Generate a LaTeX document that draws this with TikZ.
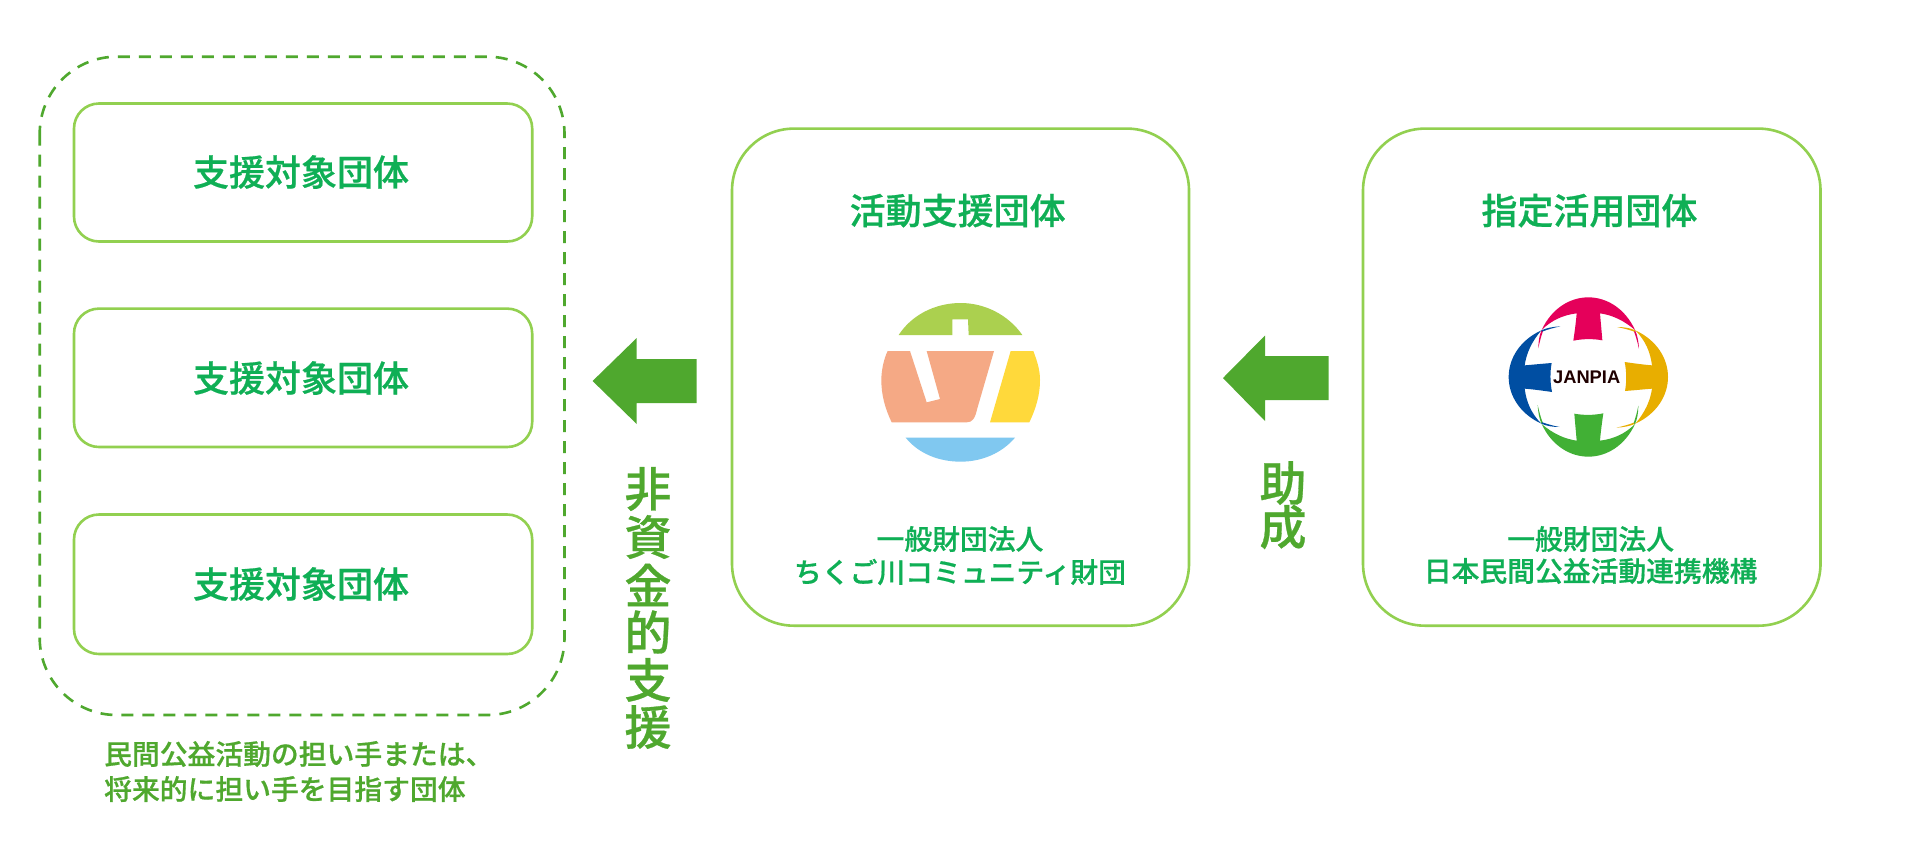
\documentclass[tikz,border=0pt]{standalone}
\usepackage{fontspec}
\newfontfamily\cjk[FakeBold=0.6]{Noto Sans CJK JP Medium}
\newfontfamily\lat{Liberation Sans}
\definecolor{bordergreen}{HTML}{92D050}
\definecolor{textgreen}{HTML}{0FAF55}
\definecolor{olivegreen}{HTML}{4FA82E}
\definecolor{lgreen}{HTML}{ABD04F}
\definecolor{lpeach}{HTML}{F5A985}
\definecolor{lyellow}{HTML}{FFD93B}
\definecolor{lblue}{HTML}{80C8F0}
\definecolor{jpink}{HTML}{E5005A}
\definecolor{jblue}{HTML}{004EA2}
\definecolor{jyellow}{HTML}{E8AE00}
\definecolor{jgreen}{HTML}{41B035}
\newcommand{\petal}[2]{%
  \begin{scope}[rotate around={#2:(325,291)}]
    \fill[#1] (185,150) .. controls (215,85) and (270,52) .. (325,52)
      .. controls (380,52) and (435,85) .. (465,150)
      .. controls (430,120) and (395,105) .. (360,100)
      .. controls (362,125) and (365,155) .. (367,181)
      .. controls (340,176) and (310,176) .. (280,182)
      .. controls (284,155) and (288,125) .. (290,100)
      .. controls (250,105) and (215,120) .. (185,150) -- cycle;
    \fill[#1] (465,150) .. controls (472,165) and (476,185) .. (477,207)
      .. controls (472,185) and (468,170) .. (461,152) -- cycle;
    \fill[#1] (185,150) .. controls (178,165) and (175,185) .. (175,205)
      .. controls (179,185) and (183,170) .. (189,153) -- cycle;
  \end{scope}}
\tikzset{
  box/.style={draw=bordergreen,line width=2.6pt,fill=white},
  arrowshape/.style={fill=olivegreen,draw=none},
  title/.style={font=\cjk\fontsize{36}{36}\selectfont,text=textgreen,inner sep=0pt,anchor=center},
  small/.style={font=\cjk\fontsize{27.8}{27.8}\selectfont,text=textgreen,inner sep=0pt,anchor=center},
  note/.style={font=\cjk\fontsize{27.8}{27.8}\selectfont,text=olivegreen,inner sep=0pt,anchor=west},
  vert/.style={font=\cjk\fontsize{47}{47}\selectfont,text=olivegreen,inner sep=0pt,anchor=center},
}
\begin{document}
\begin{tikzpicture}[x=1pt,y=-1pt]
\useasboundingbox (0,0) rectangle (1920,847);
\fill[white] (0,0) rectangle (1920,847);
% outer dashed
\draw[olivegreen,line width=2.6pt,dash pattern=on 12pt off 9pt,rounded corners=77pt] (39.7,56.7) rectangle (564.5,715);
% target boxes
\draw[box,rounded corners=25pt] (74,103.5) rectangle (532.2,241.5);
\draw[box,rounded corners=25pt] (74,308.6) rectangle (532.2,447);
\draw[box,rounded corners=25pt] (74,514.5) rectangle (532.2,654);
\node[title] (t1) at (301,172) {支援対象団体};
\node[title] (t2) at (301,378) {支援対象団体};
\node[title] (t3) at (301,584) {支援対象団体};
% middle and right boxes
\draw[box,rounded corners=62pt] (732,128.6) rectangle (1189,625.7);
\draw[box,rounded corners=62pt] (1363,128.6) rectangle (1820.5,625.7);
\node[title] (m1) at (957.6,210.6) {活動支援団体};
\node[small] (m2) at (960,539) {一般財団法人};
\node[small] (m3) at (960,572) {ちくご川コミュニティ財団};
\node[title] (r1) at (1589.4,210.6) {指定活用団体};
\node[small] (r2) at (1590.6,539) {一般財団法人};
\node[small] (r3) at (1590.6,571) {日本民間公益活動連携機構};
% arrows
\fill[arrowshape] (592.6,381) -- (636.7,338) -- (636.7,359) -- (696.5,359) -- (696.5,403) -- (636.7,403) -- (636.7,424) -- cycle;
\fill[arrowshape] (1223,378) -- (1265,335.5) -- (1265,356) -- (1328.5,356) -- (1328.5,400) -- (1265,400) -- (1265,421) -- cycle;
% vertical labels
\node[vert] (v1) at (648,489) {非};
\node[vert] (v2) at (648,537) {資};
\node[vert] (v3) at (648,585) {金};
\node[vert] (v4) at (648,632) {的};
\node[vert] (v5) at (648,680) {支};
\node[vert] (v6) at (648,727) {援};
\node[vert] (w1) at (1283,483) {助};
\node[vert] (w2) at (1283,527) {成};
% note
\node[note] (n1) at (104,754) {民間公益活動の担い手または、};
\node[note] (n2) at (104,789) {将来的に担い手を目指す団体};
% logo 1
\begin{scope}[shift={(840,280)},x=0.33333pt,y=-0.33333pt]
  \fill[lgreen] (176,165) .. controls (215,105) and (285,69) .. (362,69)
     .. controls (435,69) and (505,105) .. (547,165) -- (386,165) -- (384,118) -- (337,118) -- (337,165) -- cycle;
  \fill[lpeach] (143,213) -- (210,213) -- (260,367) -- (300,357) -- (260,213) -- (462,213) -- (412,385)
     .. controls (405,415) and (398,427) .. (380,427) -- (155,427)
     .. controls (135,385) and (124,345) .. (124,300) .. controls (124,270) and (132,235) .. (143,213) -- cycle;
  \fill[lyellow] (512,213) -- (580,213) .. controls (592,245) and (600,270) .. (600,300)
     .. controls (600,345) and (588,385) .. (568,427) -- (450,427) -- cycle;
  \fill[lblue] (197,473) -- (525,473) .. controls (485,520) and (425,545) .. (362,545)
     .. controls (295,545) and (235,520) .. (197,473) -- cycle;
\end{scope}
% logo 2
\begin{scope}[shift={(1480,280)},x=0.33333pt,y=-0.33333pt]
  \petal{jpink}{0}
  \petal{jyellow}{270}
  \petal{jgreen}{180}
  \petal{jblue}{90}
  \node[font=\lat\bfseries\fontsize{18.3}{18.3}\selectfont,text={black!88!red},inner sep=0pt] (jan) at (320,292) {JANPIA};
\end{scope}
\end{tikzpicture}
\end{document}
